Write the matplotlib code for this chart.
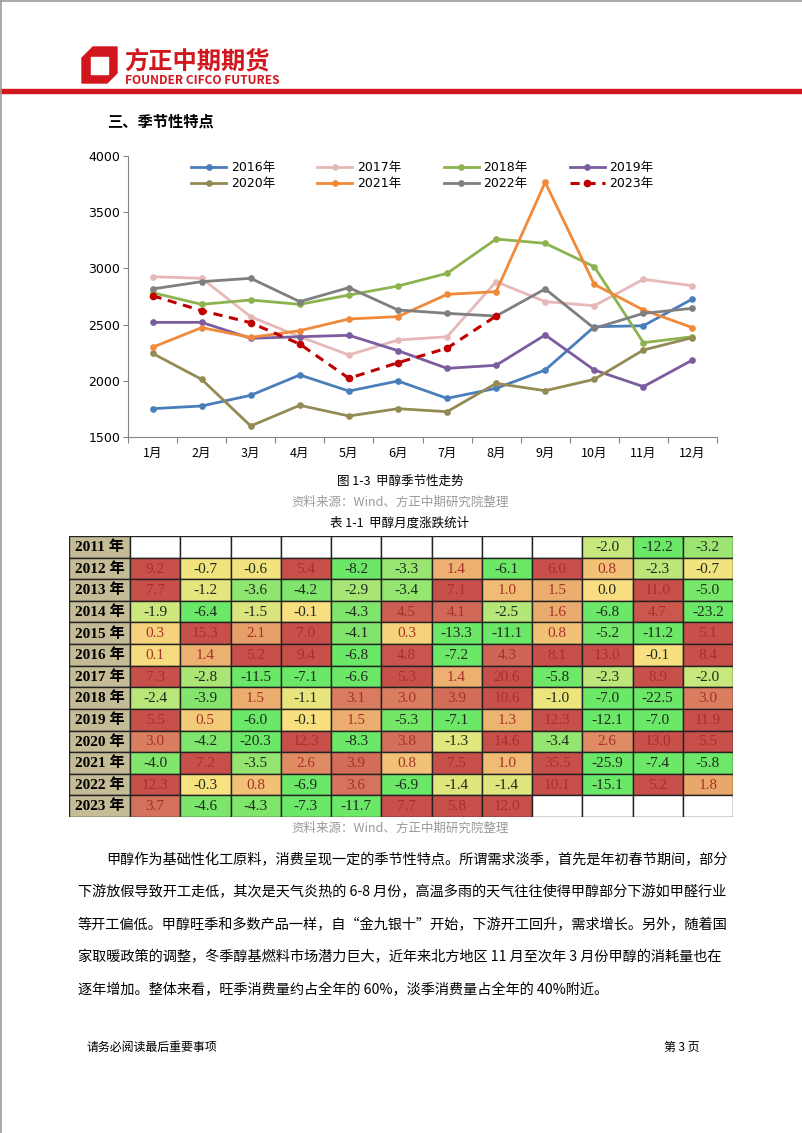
import numpy as np
import matplotlib.pyplot as plt
from matplotlib.colors import LinearSegmentedColormap, Normalize
from matplotlib.patches import Rectangle, Polygon

plt.rcParams['font.family'] = ['DejaVu Sans', 'Noto Sans CJK SC']

# =====================================================
# Data
# =====================================================

months = [f"{m}月" for m in range(1, 13)]

years = ["2016年", "2017年", "2018年", "2019年", "2020年", "2021年", "2022年", "2023年"]
s2016 = [1752, 1776, 1871, 2052, 1909, 1998, 1844, 1933, 2096, 2481, 2490, 2728]
s2017 = [2926, 2912, 2570, 2392, 2230, 2363, 2392, 2882, 2704, 2668, 2903, 2846]
s2018 = [2784, 2680, 2719, 2680, 2763, 2843, 2956, 3261, 3223, 3015, 2339, 2392]
s2019 = [2520, 2520, 2378, 2392, 2405, 2268, 2111, 2138, 2408, 2096, 1948, 2185]
s2020 = [2244, 2013, 1598, 1782, 1687, 1752, 1725, 1977, 1912, 2013, 2274, 2384]
s2021 = [2298, 2473, 2386, 2446, 2550, 2571, 2769, 2793, 3766, 2858, 2630, 2473]
s2022 = [2817, 2882, 2912, 2704, 2829, 2630, 2600, 2576, 2817, 2467, 2600, 2645]
s2023 = [2757, 2624, 2517, 2327, 2022, 2161, 2290, 2576]
series = [s2016, s2017, s2018, s2019, s2020, s2021, s2022, s2023]
colors = ["#4A7EBB", "#E6B9B8", "#8DB34F", "#7B5C9E", "#948A54", "#F08A3A", "#7F7F7F", "#C00000"]

table_years = ["2011 年", "2012 年", "2013 年", "2014 年", "2015 年", "2016 年", "2017 年",
               "2018 年", "2019 年", "2020 年", "2021 年", "2022 年", "2023 年"]
t2011 = [None] * 9 + [-2.0, -12.2, -3.2]
t2012 = [9.2, -0.7, -0.6, 5.4, -8.2, -3.3, 1.4, -6.1, 6.0, 0.8, -2.3, -0.7]
t2013 = [7.7, -1.2, -3.6, -4.2, -2.9, -3.4, 7.1, 1.0, 1.5, 0.0, 11.0, -5.0]
t2014 = [-1.9, -6.4, -1.5, -0.1, -4.3, 4.5, 4.1, -2.5, 1.6, -6.8, 4.7, -23.2]
t2015 = [0.3, 15.3, 2.1, 7.0, -4.1, 0.3, -13.3, -11.1, 0.8, -5.2, -11.2, 5.1]
t2016 = [0.1, 1.4, 5.2, 9.4, -6.8, 4.8, -7.2, 4.3, 8.1, 13.0, -0.1, 8.4]
t2017 = [7.3, -2.8, -11.5, -7.1, -6.6, 5.3, 1.4, 20.6, -5.8, -2.3, 8.9, -2.0]
t2018 = [-2.4, -3.9, 1.5, -1.1, 3.1, 3.0, 3.9, 10.6, -1.0, -7.0, -22.5, 3.0]
t2019 = [5.5, 0.5, -6.0, -0.1, 1.5, -5.3, -7.1, 1.3, 12.3, -12.1, -7.0, 11.9]
t2020 = [3.0, -4.2, -20.3, 12.3, -8.3, 3.8, -1.3, 14.6, -3.4, 2.6, 13.0, 5.5]
t2021 = [-4.0, 7.2, -3.5, 2.6, 3.9, 0.8, 7.5, 1.0, 35.5, -25.9, -7.4, -5.8]
t2022 = [12.3, -0.3, 0.8, -6.9, 3.6, -6.9, -1.4, -1.4, 10.1, -15.1, 5.2, 1.8]
t2023 = [3.7, -4.6, -4.3, -7.3, -11.7, 7.7, 5.8, 12.0, None, None, None, None]
table = [t2011, t2012, t2013, t2014, t2015, t2016, t2017, t2018, t2019, t2020, t2021, t2022, t2023]

body = [
    "甲醇作为基础性化工原料，消费呈现一定的季节性特点。所谓需求淡季，首先是年初春节期间，部分",
    "下游放假导致开工走低，其次是天气炎热的 6-8 月份，高温多雨的天气往往使得甲醇部分下游如甲醛行业",
    "等开工偏低。甲醇旺季和多数产品一样，自“金九银十”开始，下游开工回升，需求增长。另外，随着国",
    "家取暖政策的调整，冬季醇基燃料市场潜力巨大，近年来北方地区 11 月至次年 3 月份甲醇的消耗量也在",
    "逐年增加。整体来看，旺季消费量约占全年的 60%，淡季消费量占全年的 40%附近。",
]

# =====================================================
# Page
# =====================================================

W, H = 802, 1133
fig = plt.figure(figsize=(W / 100, H / 100), dpi=100)


def fx(x):
    return x / W


def fy(y):
    return 1 - y / H


RED = "#D2161E"
cjk = ['Noto Sans CJK SC', 'DejaVu Sans']

# page frame (top / left)
fig.add_artist(plt.Line2D([0, 1], [fy(0.5), fy(0.5)], color="#9A9A9A", lw=1.2))
fig.add_artist(plt.Line2D([fx(0.5), fx(0.5)], [0, 1], color="#9A9A9A", lw=1.2))

# logo
logo = [(82, 58), (93, 47), (117, 47), (117, 73), (107, 83), (82, 83)]
fig.add_artist(Polygon([(fx(x), fy(y)) for x, y in logo], closed=True, color=RED))
hole = [(91, 57), (108, 57), (108, 74), (91, 74)]
fig.add_artist(Polygon([(fx(x), fy(y)) for x, y in hole], closed=True, color="white"))
fig.text(fx(124), fy(61), "方正中期期货", family=cjk, fontsize=17.5, fontweight="bold",
         color=RED, va="center", ha="left")
fig.text(fx(125), fy(80), "FOUNDER CIFCO FUTURES", family=cjk, fontsize=8.6,
         fontweight="bold", color=RED, va="center", ha="left")
fig.add_artist(Rectangle((0, fy(93)), 1, 4 / H, color=RED))

fig.text(fx(107), fy(122), "三、季节性特点", family=cjk, fontsize=11, fontweight="bold",
         va="center", ha="left")

# =====================================================
# Seasonal chart
# =====================================================

ax = fig.add_axes([fx(128), fy(437), (717 - 128) / W, (437 - 156) / H])
x = np.arange(12)
for name, s, c in zip(years, series, colors):
    if name == "2023年":
        ax.plot(x[:len(s)], s, color=c, lw=2.2, ls=(0, (3, 2.2)), marker="o",
                markersize=4.5, label=name, zorder=5)
    else:
        ax.plot(x[:len(s)], s, color=c, lw=2, marker="o", markersize=3.8,
                label=name)

ax.set_xlim(-0.5, 11.5)
ax.set_ylim(1500, 4000)
ax.set_yticks(np.arange(1500, 4001, 500))
ax.set_xticks(np.arange(-0.5, 12, 1))
ax.set_xticklabels([])
ax.set_xticks(x, minor=True)
ax.set_xticklabels(months, minor=True, family=cjk, fontsize=9)
ax.tick_params(axis="x", which="major", length=4, color="#868686")
ax.tick_params(axis="x", which="minor", length=0, pad=7)
ax.tick_params(axis="y", length=3.5, color="#868686", pad=2, labelsize=9)
for side in ["top", "right"]:
    ax.spines[side].set_visible(False)
for side in ["left", "bottom"]:
    ax.spines[side].set_color("#868686")

h, l = ax.get_legend_handles_labels()
order = [0, 4, 1, 5, 2, 6, 3, 7]
ax.legend([h[i] for i in order], [l[i] for i in order], ncol=4, frameon=False,
          loc="upper left", bbox_to_anchor=(fx(180), fy(150)),
          bbox_transform=fig.transFigure, handlelength=2.8,
          handletextpad=0.35, columnspacing=3.4, labelspacing=0.25,
          prop={"family": ['DejaVu Sans', 'Noto Sans CJK SC'], "size": 9})

fig.text(fx(400), fy(481), "图 1-3  甲醇季节性走势", family=cjk, fontsize=9,
         ha="center", va="center")
fig.text(fx(400), fy(502), "资料来源：Wind、方正中期研究院整理", family=cjk, fontsize=9,
         ha="center", va="center", color="#9A9A9A")
fig.text(fx(400), fy(523), "表 1-1  甲醇月度涨跌统计", family=cjk, fontsize=9,
         ha="center", va="center")

# =====================================================
# Monthly change table
# =====================================================

nodes = [(-6.0, "#6CE868"), (-4.0, "#82E56C"), (-3.0, "#A3E574"), (-2.0, "#C8E77C"),
         (-1.0, "#ECE57E"), (-0.3, "#F7E27F"), (0.0, "#F8DE80"), (0.5, "#F3CA78"),
         (1.2, "#EEB672"), (2.2, "#E59D68"), (3.0, "#DA7E60"), (4.2, "#D06858"),
         (5.0, "#C8504B")]
vmin, vmax = nodes[0][0], nodes[-1][0]
cmap = LinearSegmentedColormap.from_list(
    "rdylgn_xl", [((v - vmin) / (vmax - vmin), c) for v, c in nodes])
norm = Normalize(vmin, vmax, clip=True)

yc = 61 / 50.25
tab = fig.add_axes([fx(69), fy(817), (733 - 69) / W, (817 - 536) / H])
tab.set_xlim(-yc, 12)
tab.set_ylim(len(table), 0)
tab.axis("off")

for i, (yl, row) in enumerate(zip(table_years, table)):
    tab.add_patch(Rectangle((-yc, i), yc, 1, facecolor="#C4BC96", edgecolor="#222222", lw=1))
    tab.text(-yc / 2, i + 0.52, yl, ha="center", va="center", fontsize=11,
             fontweight="bold", family=['Liberation Serif', 'Noto Sans CJK SC'])
    for j, v in enumerate(row):
        if v is None:
            tab.add_patch(Rectangle((j, i), 1, 1, facecolor="white", edgecolor="#222222", lw=1))
            continue
        tab.add_patch(Rectangle((j, i), 1, 1, facecolor=cmap(norm(v)), edgecolor="#222222", lw=1))
        tc = "#A8302A" if v > 0 else "#1E2A1E"
        tab.text(j + 0.5, i + 0.53, f"{v:.1f}", ha="center", va="center", fontsize=11,
                 family="Liberation Serif", color=tc)

fig.text(fx(400), fy(828), "资料来源：Wind、方正中期研究院整理", family=cjk, fontsize=9,
         ha="center", va="center", color="#9A9A9A")

# =====================================================
# Body text + footer
# =====================================================

for k, line in enumerate(body):
    x0 = 106 if k == 0 else 78
    fig.text(fx(x0), fy(860 + k * 32.5), line, family=cjk, fontsize=10.2,
             ha="left", va="center")

fig.text(fx(87), fy(1047), "请务必阅读最后重要事项", family=cjk, fontsize=8.6,
         ha="left", va="center")
fig.text(fx(699), fy(1047), "第 3 页", family=cjk, fontsize=8.6,
         ha="right", va="center")

plt.savefig("out.png", dpi=100)
